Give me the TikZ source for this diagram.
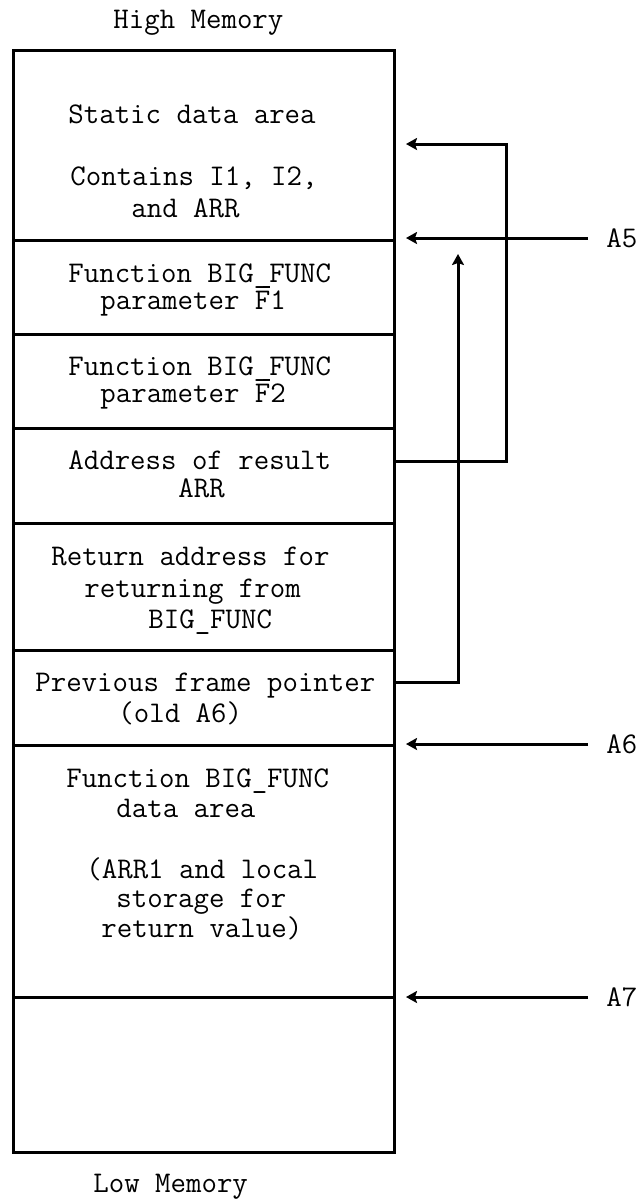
\documentclass[tikz,border=0pt]{standalone}
\usetikzlibrary{arrows.meta}
\newcommand\barF{\makebox[0pt][l]{\hspace{0.28em}\rule[0.7em]{0.22em}{0.08em}}F}
\begin{document}
\begin{tikzpicture}[x=0.5pt,y=-0.5pt,
  every node/.style={font=\fontsize{15}{18}\selectfont\ttfamily},
  cell/.style={draw, line width=1.5pt, minimum width=190.5pt, anchor=north west, inner sep=0pt, outer sep=0pt},
  txt/.style={anchor=base west, inner sep=0pt},
  lab/.style={anchor=west, inner sep=0pt},
  arr/.style={line width=1.5pt, -{Stealth[length=5.5pt,width=6pt,inset=1pt]}}]
\useasboundingbox (0,0) rectangle (641,1201);
% cells
\node[cell, minimum height=95pt]   (stat) at (13,50)  {};
\node[cell, minimum height=47pt]   (f1)   at (13,240) {};
\node[cell, minimum height=47pt]   (f2)   at (13,334) {};
\node[cell, minimum height=47.5pt] (addr) at (13,428) {};
\node[cell, minimum height=63.5pt] (ret)  at (13,523) {};
\node[cell, minimum height=47.5pt] (prev) at (13,650) {};
\node[cell, minimum height=126pt]  (data) at (13,745) {};
\node[cell, minimum height=77.5pt] (free) at (13,997) {};
% texts
\node[txt] (hi)  at (113,28)  {High Memory};
\node[txt] (t1)  at (68,123)  {Static data area};
\node[txt] (t2)  at (70,185)  {Contains I1, I2,};
\node[txt] (t3)  at (131,217) {and ARR};
\node[txt] (t4)  at (68,282)  {Function BIG\_FUNC};
\node[txt] (t5)  at (100,309) {parameter \barF1};
\node[txt] (t6)  at (68,375)  {Function BIG\_FUNC};
\node[txt] (t7)  at (100,402) {parameter \barF2};
\node[txt] (t8)  at (68,469)  {Address of result};
\node[txt] (t9)  at (178,497) {ARR};
\node[txt] (t10) at (51,565)  {Return address for};
\node[txt] (t11) at (84,597)  {returning from};
\node[txt] (t12) at (148,628) {BIG\_FUNC};
\node[txt] (t13) at (35,691)  {Previous frame pointer};
\node[txt] (t14) at (118,722) {(old A6)};
\node[txt] (t15) at (66,787)  {Function BIG\_FUNC};
\node[txt] (t16) at (116,817) {data area};
\node[txt] (t17) at (86,878)  {(ARR1 and local};
\node[txt] (t18) at (116,907) {storage for};
\node[txt] (t19) at (101,937) {return value)};
\node[txt] (lo)  at (93,1192) {Low Memory};
% register labels
\node[lab] (A5) at (606,238) {A5};
\node[lab] (A6) at (606,744) {A6};
\node[lab] (A7) at (606,997) {A7};
% coordinates
\coordinate (tipx) at (406,0);
\coordinate (addrline) at (0,461);
\coordinate (statcorner) at (506,144);
\coordinate (stattip) at (406,144);
\coordinate (prevline) at (0,682);
\coordinate (prevtip) at (458,254);
% connectors
\draw[arr] ([xshift=-9pt]A5.west) -- (A5.west -| tipx);
\draw[arr] ([xshift=-9pt]A6.west) -- (A6.west -| tipx);
\draw[arr] ([xshift=-9pt]A7.west) -- (A7.west -| tipx);
\draw[arr] (addr.east |- addrline) -| (statcorner) -- (stattip);
\draw[arr] (prev.east |- prevline) -| (prevtip);
\end{tikzpicture}
\end{document}
